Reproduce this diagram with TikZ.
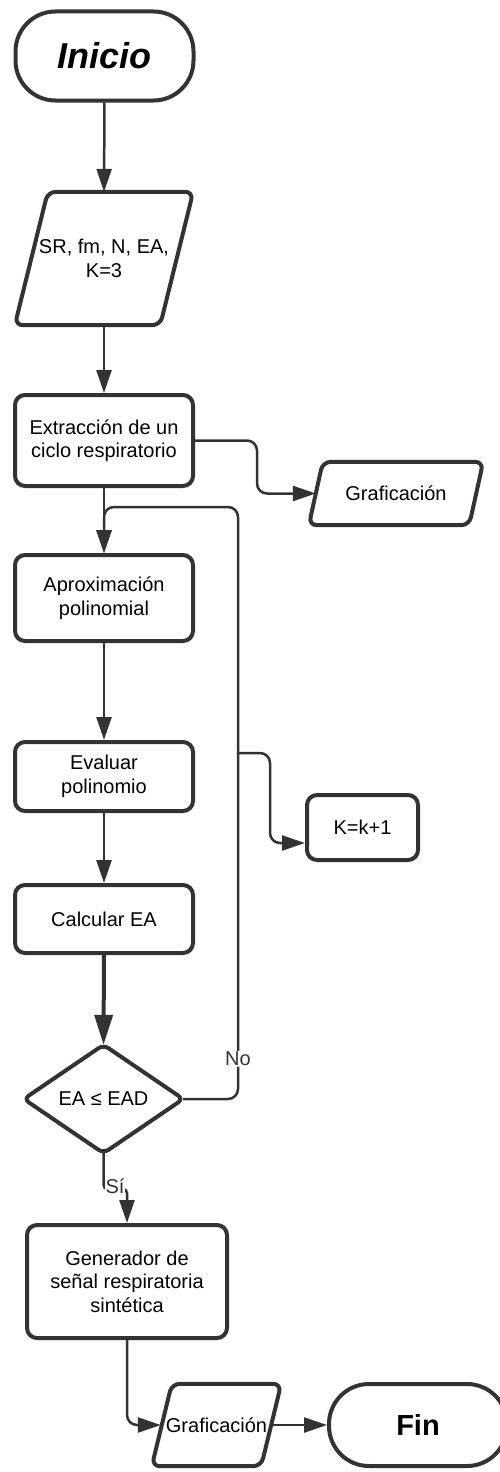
\documentclass[tikz,border=0pt]{standalone}
\usepackage{fontspec}
\setmainfont{Liberation Sans}
\usetikzlibrary{arrows.meta,calc}
\definecolor{ink}{HTML}{333333}
\newcommand\bodyfont{\fontsize{20}{23.5}\selectfont}
\begin{document}
\begin{tikzpicture}[x=1pt,y=-1pt,
  stepbox/.style={draw=ink,line width=4pt,rounded corners=10pt,fill=white,
    minimum width=178pt,align=center,inner sep=0pt,font=\bodyfont},
  frame/.style={minimum width=#1,align=center,inner sep=0pt,font=\bodyfont},
  outline/.style={draw=ink,line width=4pt,rounded corners=8pt,fill=white},
  terminal/.style={draw=ink,line width=4pt,rounded corners=40pt,fill=white,
    minimum width=178pt,inner sep=0pt},
  conn/.style={draw=ink,line width=2.5pt,rounded corners=10pt,
    -{Triangle[length=23pt,width=15pt]}},
  thickconn/.style={draw=ink,line width=4pt,
    -{Triangle[length=30pt,width=18pt]}},
  lbl/.style={fill=white,inner sep=1pt,font=\bodyfont,text=ink}]
\useasboundingbox (0,0) rectangle (499,1472);

% --- start terminal
\node[terminal,minimum height=89pt,font=\fontsize{36}{40}\selectfont\bfseries\itshape]
  (inicio) at (104.5,56) {Inicio};

% --- input data (parallelogram)
\node[frame=178pt,minimum height=133pt] (datos) at (104,258.5) {};
\draw[outline] ($(datos.north west)+(33,0)$) -- (datos.north east)
  -- ($(datos.south east)-(33,0)$) -- (datos.south west) -- cycle;
\node[font=\bodyfont,align=center] at (datos.center) {SR, fm, N, EA,\\K=3};

% --- process boxes
\node[stepbox,minimum height=91pt] (extr) at (104,440.5) {Extracción de un\\ciclo respiratorio};
\node[stepbox,minimum height=86pt] (aprox) at (104,598) {Aproximación\\polinomial};
\node[stepbox,minimum height=69pt] (eval) at (104,776.5) {Evaluar\\polinomio};
\node[stepbox,minimum height=68pt] (calc) at (104,919) {Calcular EA};
\node[stepbox,minimum width=111pt,minimum height=65pt] (kinc) at (362.5,827.5) {K=k+1};
\node[stepbox,minimum width=200pt,minimum height=113pt] (gen) at (127,1281.5)
  {Generador de\\señal respiratoria\\sintética};

% --- output: plot after extraction
\node[frame=174pt,minimum height=63pt] (graf1) at (396,493.5) {};
\draw[outline] ($(graf1.north west)+(14,0)$) -- (graf1.north east)
  -- ($(graf1.south east)-(14,0)$) -- (graf1.south west) -- cycle;
\node[font=\bodyfont] at (graf1.center) {Graficación};

% --- decision
\node[frame=159pt,minimum height=108pt] (dec) at (103.5,1099) {};
\draw[outline,rounded corners=6pt] (dec.north) -- (dec.east) -- (dec.south) -- (dec.west) -- cycle;
\node[font=\bodyfont] at (dec.center) {EA ≤ EAD};

% --- output: final plot
\node[frame=129pt,minimum height=82pt] (graf2) at (216.5,1425) {};
\draw[outline] ($(graf2.north west)+(20,0)$) -- (graf2.north east)
  -- ($(graf2.south east)-(20,0)$) -- (graf2.south west) -- cycle;
\node[font=\bodyfont] at (graf2.center) {Graficación};

% --- end terminal
\node[terminal,minimum height=82pt,font=\fontsize{29}{32}\selectfont\bfseries]
  (fin) at (418,1425) {Fin};

% --- connectors
\draw[conn] (inicio.south) -- (datos.north);
\draw[conn] (datos.south) -- (extr.north);
\draw[conn] (extr.east) -- ++(62,0) |- ($(graf1.west)+(7,0)$);
\draw[conn] (extr.south) -- (aprox.north);
\draw[conn] (dec.east) -| node[lbl,pos=0.534] {No} (238,507) -| (aprox.north);
\coordinate (tap) at (238,753);
\draw[conn] (tap) -- ++(32,0) |- ($(kinc.west)+(0,15.5)$);
\draw[conn] (aprox.south) -- (eval.north);
\draw[conn] (eval.south) -- (calc.north);
\draw[thickconn] (calc.south) -- (dec.north);
\draw[conn,rounded corners=4pt] (dec.south) |- ($(gen.north)+(0,-34)$) -- (gen.north);
\node[lbl] at (115,1186) {Sí};
\draw[conn] (gen.south) |- ($(graf2.west)+(9,0)$);
\draw[conn] ($(graf2.east)-(9,0)$) -- (fin.west);
\end{tikzpicture}
\end{document}
